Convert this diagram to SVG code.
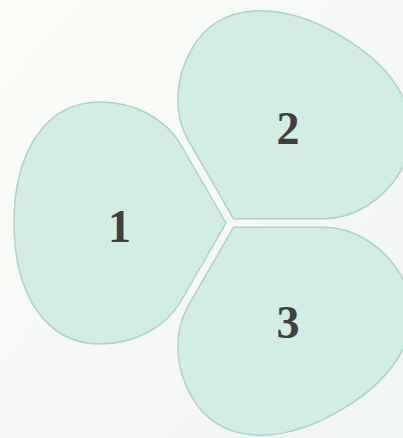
<svg xmlns="http://www.w3.org/2000/svg" width="403" height="438" viewBox="0 0 403 438">
  <defs>
    <linearGradient id="bg" x1="0" y1="0" x2="1" y2="1">
      <stop offset="0" stop-color="#fafcf6"/>
      <stop offset="1" stop-color="#f1f4f4"/>
    </linearGradient>
    <path id="petal" d="M 226 223 L 181 145 C 166 119 135 102 100 102 C 45 102 14 153 14 223 C 14 293 45 344 100 344 C 135 344 166 327 181 301 Z"/>
  </defs>
  <style>
    .petal { fill: #d1ede4; stroke: #acd5c8; stroke-width: 1.5; stroke-linejoin: miter; }
    .label { font-family: "Liberation Serif", "Times New Roman", serif; font-weight: bold; font-size: 46px; fill: #404040; text-anchor: middle; }
  </style>
  <rect x="0" y="0" width="403" height="438" fill="url(#bg)"/>
  <g id="connectors"/>
  <g id="node-1">
    <use href="#petal" class="petal"/>
    <text class="label" x="119.5" y="242">1</text>
  </g>
  <g id="node-2">
    <use href="#petal" class="petal" transform="rotate(120 231 223)"/>
    <text class="label" x="288" y="144">2</text>
  </g>
  <g id="node-3">
    <use href="#petal" class="petal" transform="rotate(-120 231 223)"/>
    <text class="label" x="288" y="338">3</text>
  </g>
</svg>
